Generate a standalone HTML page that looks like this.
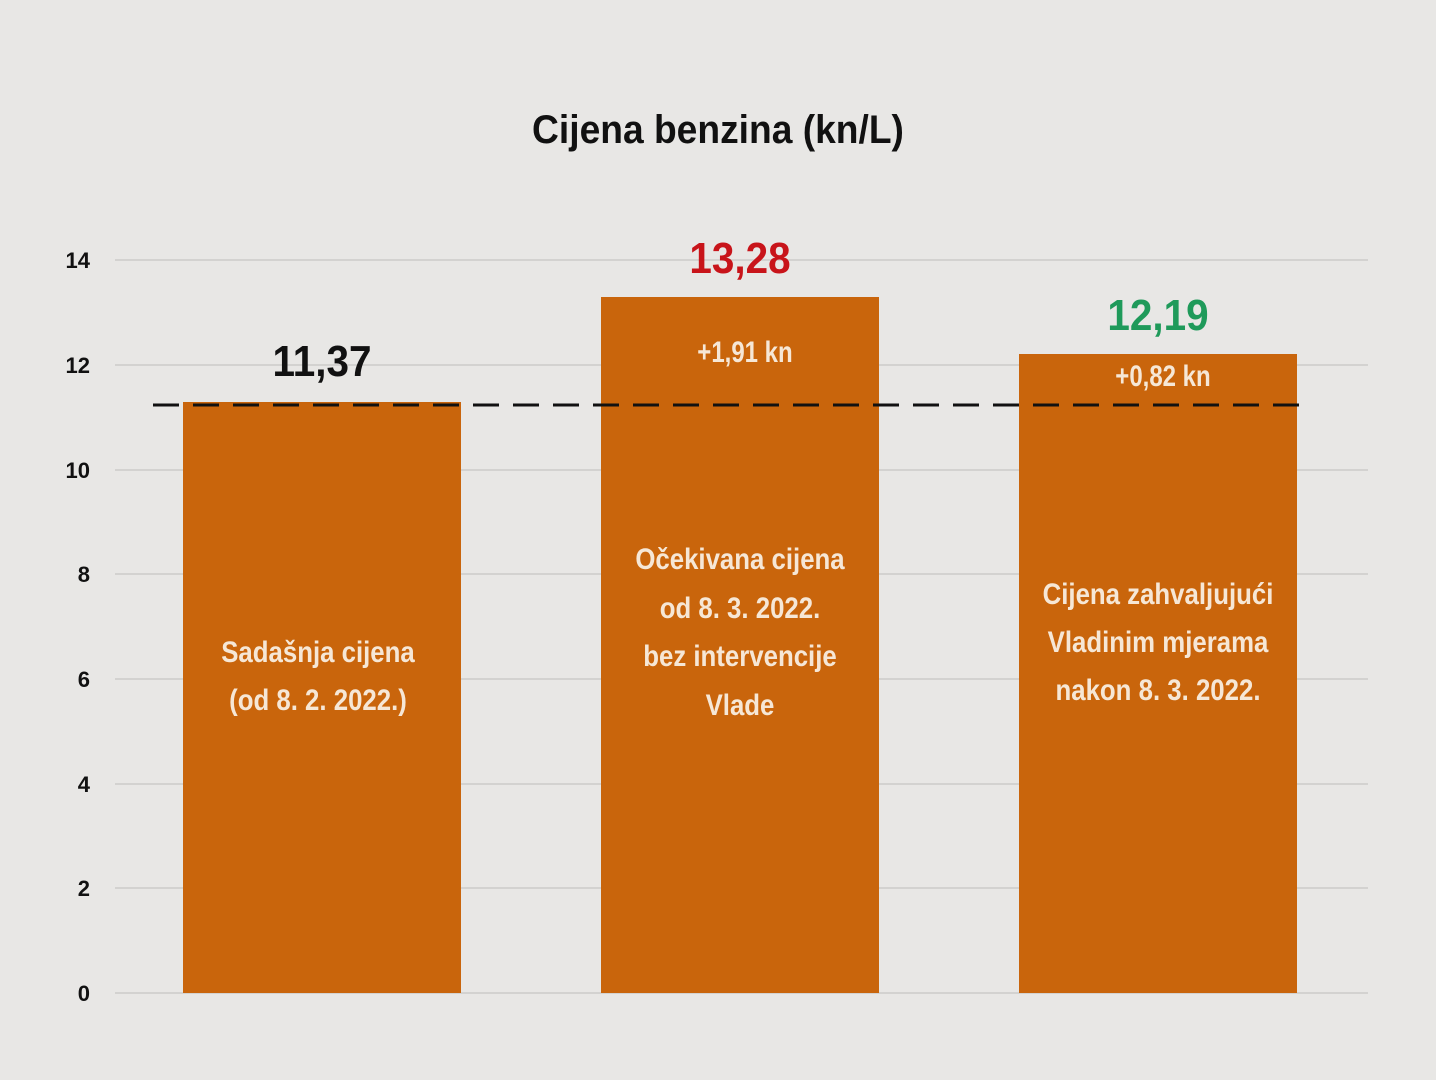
<!DOCTYPE html>
<html><head><meta charset="utf-8"><style>
html,body{margin:0;padding:0;background:#e8e7e5;}
svg{display:block}
text{font-family:"Liberation Sans Narrow","Liberation Sans",sans-serif;}
</style></head><body>
<svg width="1436" height="1080" viewBox="0 0 1436 1080">
<rect width="1436" height="1080" fill="#e8e7e5"/>
<text x="718" y="143" text-anchor="middle" font-size="40" font-weight="bold" fill="#111" transform="translate(718,0) scale(0.93,1) translate(-718,0)">Cijena benzina (kn/L)</text>
<g stroke="#d3d2d0" stroke-width="2">
<line x1="115" x2="1368" y1="260" y2="260"/>
<line x1="115" x2="1368" y1="365" y2="365"/>
<line x1="115" x2="1368" y1="470" y2="470"/>
<line x1="115" x2="1368" y1="574" y2="574"/>
<line x1="115" x2="1368" y1="679" y2="679"/>
<line x1="115" x2="1368" y1="784" y2="784"/>
<line x1="115" x2="1368" y1="888" y2="888"/>
<line x1="115" x2="1368" y1="993" y2="993"/>
</g>
<g font-size="22" font-weight="bold" fill="#111" text-anchor="end">
<text x="90" y="268">14</text><text x="90" y="373">12</text><text x="90" y="478">10</text>
<text x="90" y="582">8</text><text x="90" y="687">6</text><text x="90" y="792">4</text>
<text x="90" y="896">2</text><text x="90" y="1001">0</text>
</g>
<g fill="#c9650c">
<rect x="183" y="402" width="278" height="591"/>
<rect x="601" y="297" width="278" height="696"/>
<rect x="1019" y="354" width="278" height="639"/>
</g>
<line x1="153" x2="1310" y1="405" y2="405" stroke="#111" stroke-width="3" stroke-dasharray="26,14"/>
<g font-weight="bold" text-anchor="middle" font-size="44">
<text x="322" y="376" fill="#111" transform="translate(322,0) scale(0.92,1) translate(-322,0)">11,37</text>
<text x="740" y="273" fill="#c8141a" transform="translate(740,0) scale(0.92,1) translate(-740,0)">13,28</text>
<text x="1158" y="330" fill="#1f9a5a" transform="translate(1158,0) scale(0.92,1) translate(-1158,0)">12,19</text>
</g>
<g fill="#f6e7d6" font-size="30" font-weight="bold" text-anchor="middle">
<text x="745" y="362" transform="translate(745,0) scale(0.8,1) translate(-745,0)">+1,91 kn</text>
<text x="1163" y="386" transform="translate(1163,0) scale(0.8,1) translate(-1163,0)">+0,82 kn</text>
<g transform="translate(318,0) scale(0.86,1) translate(-318,0)">
<text x="318" y="662">Sadašnja cijena</text><text x="318" y="710">(od 8. 2. 2022.)</text></g>
<g transform="translate(740,0) scale(0.86,1) translate(-740,0)">
<text x="740" y="569">Očekivana cijena</text><text x="740" y="618">od 8. 3. 2022.</text>
<text x="740" y="666">bez intervencije</text><text x="740" y="715">Vlade</text></g>
<g transform="translate(1158,0) scale(0.86,1) translate(-1158,0)">
<text x="1158" y="604">Cijena zahvaljujući</text><text x="1158" y="652">Vladinim mjerama</text>
<text x="1158" y="700">nakon 8. 3. 2022.</text></g>
</g>
</svg>
</body></html>
